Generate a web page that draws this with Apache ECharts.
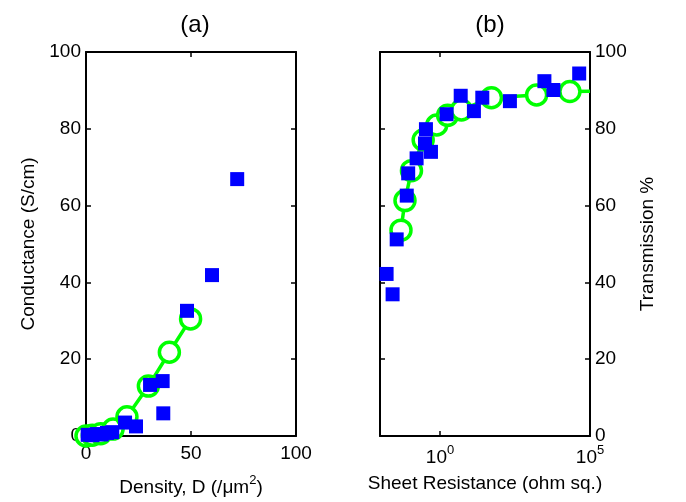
<!DOCTYPE html>
<html>
<head>
<meta charset="utf-8">
<script src="https://cdn.jsdelivr.net/npm/echarts@6/dist/echarts.min.js"></script>
<style>
  html, body { margin: 0; padding: 0; background: #fff; }
  #chart { width: 686px; height: 502px; }
</style>
</head>
<body>
<div id="chart"></div>
<script>
// (a) conductance vs density
const densFitX = [0, 3, 7, 12.9, 19.5, 29.7, 39.7, 49.8]
const densFitY = [0, 0.2, 0.6, 1.8, 5, 13, 21.8, 30.5]
const densMeasX = [0.8, 3, 5, 7.5, 10, 12.5, 18.6, 23.8, 30.5, 36.5, 36.8, 48.1, 60, 72]
const densMeasY = [0.3, 0.2, 0.5, 0.4, 0.8, 1.0, 3.5, 2.5, 13.3, 14.3, 5.9, 32.6, 41.9, 66.9]

// (b) transmission vs sheet resistance
const resFitX = [0.050, 0.068, 0.112, 0.275, 0.78, 1.8, 5.2, 52, 1660, 21400, 100000]
const resFitY = [53.6, 61.3, 69.1, 77.1, 81.0, 83.5, 84.9, 88.1, 88.8, 89.7, 89.8]
const resMeasX = [0.0166, 0.0263, 0.036, 0.078, 0.087, 0.166, 0.316, 0.50, 0.34, 1.66, 4.9, 13.5, 25.7, 214, 3020, 6030, 43600]
const resMeasY = [42.2, 36.9, 51.2, 62.6, 68.4, 72.3, 76.2, 74.0, 79.9, 83.8, 88.6, 84.6, 88.1, 87.2, 92.4, 90.1, 94.4]

const logLabels = [1, 100000]

const FONT = 'Arial, "Liberation Sans", Helvetica, sans-serif'
const GREEN = '#00ff00'
const BLUE = '#0000ff'

const chart = echarts.init(document.getElementById('chart'))

function axisLine() {
    return { show: true, onZero: false, lineStyle: { color: '#000', width: 2 } }
}
function tick(extra) {
    return Object.assign({ show: true, inside: true, length: 5, lineStyle: { color: '#000', width: 1.5 } }, extra || {})
}
function label(extra) {
    return Object.assign({ color: '#000', fontSize: 19, fontFamily: FONT }, extra || {})
}
function nameStyle() {
    return { fontSize: 19, fontFamily: FONT, color: '#000' }
}

const supRich = {
    b: { fontSize: 19, fontFamily: FONT, color: '#000' },
    t: { fontSize: 19, fontFamily: FONT, color: '#000' },
    s: { fontSize: 13, fontFamily: FONT, color: '#000', padding: [0, 0, 14, 0] }
}

function zip(xs, ys) {
    return xs.map((x, i) => [x, ys[i]])
}

const option = {
    animation: false,
    backgroundColor: '#fff',
    title: [
        { text: '(a)', left: 190, top: 8, textAlign: 'center', textStyle: { fontSize: 24, fontWeight: 'normal', fontFamily: FONT, color: '#000' } },
        { text: '(b)', left: 485, top: 8, textAlign: 'center', textStyle: { fontSize: 24, fontWeight: 'normal', fontFamily: FONT, color: '#000' } }
    ],
    grid: [
        { left: 86, right: 390, top: 52, bottom: 66 },
        { left: 380, right: 96, top: 52, bottom: 66 }
    ],
    xAxis: [
        {
            gridIndex: 0, type: 'value', min: 0, max: 100, interval: 50, position: 'bottom',
            axisLine: axisLine(), axisTick: tick(), splitLine: { show: false },
            axisLabel: label({ margin: 8 }),
            name: '{t|Density, D (/μm}{s|2}{t|)}', nameLocation: 'middle', nameGap: 38,
            nameTextStyle: { rich: supRich }
        },
        {
            gridIndex: 0, type: 'value', min: 0, max: 100, interval: 50, position: 'top',
            axisLine: axisLine(), axisTick: tick(), splitLine: { show: false },
            axisLabel: { show: false }
        },
        {
            gridIndex: 1, type: 'log', logBase: 10, min: 0.01, max: 100000, position: 'bottom',
            axisLine: axisLine(), axisTick: tick({ customValues: logLabels }),
            minorTick: { show: false }, splitLine: { show: false },
            axisLabel: {
                customValues: logLabels, margin: 8,
                formatter: v => '{b|10}{s|' + Math.round(Math.log10(v)) + '}',
                rich: supRich
            },
            name: 'Sheet Resistance (οhm sq.)', nameLocation: 'middle', nameGap: 38,
            nameTextStyle: nameStyle()
        },
        {
            gridIndex: 1, type: 'log', logBase: 10, min: 0.01, max: 100000, position: 'top',
            axisLine: axisLine(), axisTick: tick({ customValues: logLabels }),
            splitLine: { show: false }, axisLabel: { show: false }
        }
    ],
    yAxis: [
        {
            gridIndex: 0, type: 'value', min: 0, max: 100, interval: 20, position: 'left',
            axisLine: axisLine(), axisTick: tick(), splitLine: { show: false },
            axisLabel: label({ margin: 5 }),
            name: 'Conductance (S/cm)', nameLocation: 'middle', nameGap: 48, nameRotate: 90,
            nameTextStyle: nameStyle()
        },
        {
            gridIndex: 0, type: 'value', min: 0, max: 100, interval: 20, position: 'right',
            axisLine: axisLine(), axisTick: tick(), splitLine: { show: false },
            axisLabel: { show: false }
        },
        {
            gridIndex: 1, type: 'value', min: 0, max: 100, interval: 20, position: 'left',
            axisLine: axisLine(), axisTick: tick(), splitLine: { show: false },
            axisLabel: { show: false }
        },
        {
            gridIndex: 1, type: 'value', min: 0, max: 100, interval: 20, position: 'right',
            axisLine: axisLine(), axisTick: tick(), splitLine: { show: false },
            axisLabel: label({ margin: 5 }),
            name: 'Transmission %', nameLocation: 'middle', nameGap: 48, nameRotate: 90,
            nameTextStyle: nameStyle()
        }
    ],
    series: [
        {
            type: 'line', xAxisIndex: 0, yAxisIndex: 0, clip: false, z: 2,
            data: zip(densFitX, densFitY),
            symbol: 'circle', symbolSize: 20, showSymbol: true,
            lineStyle: { color: GREEN, width: 3.5 },
            itemStyle: { color: '#fff', borderColor: GREEN, borderWidth: 3.5 }
        },
        {
            type: 'scatter', xAxisIndex: 0, yAxisIndex: 0, clip: false, z: 5,
            data: zip(densMeasX, densMeasY),
            symbol: 'rect', symbolSize: 14,
            itemStyle: { color: BLUE, opacity: 1 }
        },
        {
            type: 'line', xAxisIndex: 2, yAxisIndex: 2, clip: false, z: 2,
            data: zip(resFitX, resFitY).map((p, i, a) => i === a.length - 1 ? { value: p, symbol: 'none' } : p),
            symbol: 'circle', symbolSize: 20, showSymbol: true,
            lineStyle: { color: GREEN, width: 3.5 },
            itemStyle: { color: '#fff', borderColor: GREEN, borderWidth: 3.5 }
        },
        {
            type: 'scatter', xAxisIndex: 2, yAxisIndex: 2, clip: false, z: 5,
            data: zip(resMeasX, resMeasY),
            symbol: 'rect', symbolSize: 14,
            itemStyle: { color: BLUE, opacity: 1 }
        }
    ]
}

chart.setOption(option)
</script>
</body>
</html>
